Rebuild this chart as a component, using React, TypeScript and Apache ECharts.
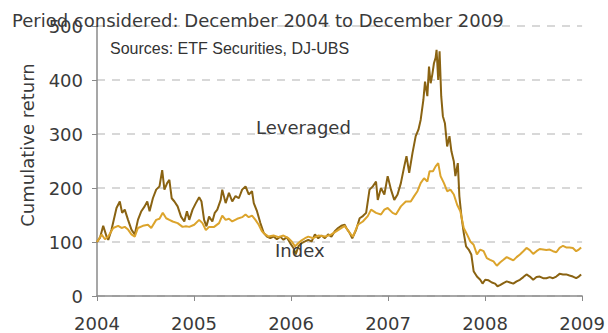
import React, { useEffect, useRef } from "react";
import * as echarts from "echarts";

// Leveraged commodity tracker, cumulative return (start = 100)
const levYears = [
  2004.0, 2004.031, 2004.064, 2004.099, 2004.116, 2004.15, 2004.201, 2004.235, 2004.259, 2004.286,
  2004.32, 2004.355, 2004.389, 2004.422, 2004.457, 2004.491, 2004.518, 2004.542, 2004.576, 2004.61,
  2004.644, 2004.672, 2004.695, 2004.723, 2004.746, 2004.77, 2004.798, 2004.831, 2004.866, 2004.9,
  2004.927, 2004.951, 2004.985, 2005.019, 2005.053, 2005.077, 2005.104, 2005.128, 2005.155, 2005.189,
  2005.214, 2005.24, 2005.275, 2005.291, 2005.326, 2005.36, 2005.394, 2005.428, 2005.462, 2005.496,
  2005.531, 2005.564, 2005.598, 2005.616, 2005.649, 2005.684, 2005.718, 2005.752, 2005.786, 2005.82,
  2005.854, 2005.889, 2005.922, 2005.956, 2005.991, 2006.025, 2006.048, 2006.076, 2006.109, 2006.144,
  2006.178, 2006.212, 2006.246, 2006.28, 2006.314, 2006.349, 2006.382, 2006.416, 2006.451, 2006.485,
  2006.518, 2006.553, 2006.57, 2006.604, 2006.631, 2006.672, 2006.707, 2006.74, 2006.774, 2006.809,
  2006.843, 2006.876, 2006.894, 2006.927, 2006.962, 2006.996, 2007.03, 2007.064, 2007.098, 2007.132,
  2007.167, 2007.19, 2007.218, 2007.252, 2007.285, 2007.313, 2007.336, 2007.364, 2007.381, 2007.405,
  2007.422, 2007.439, 2007.456, 2007.473, 2007.49, 2007.5, 2007.517, 2007.531, 2007.548, 2007.565,
  2007.586, 2007.609, 2007.633, 2007.653, 2007.678, 2007.694, 2007.719, 2007.735, 2007.756, 2007.78,
  2007.804, 2007.831, 2007.858, 2007.882, 2007.916, 2007.95, 2007.974, 2008.001, 2008.036, 2008.07,
  2008.103, 2008.128, 2008.154, 2008.189, 2008.223, 2008.257, 2008.291, 2008.325, 2008.359, 2008.394,
  2008.427, 2008.461, 2008.496, 2008.53, 2008.563, 2008.598, 2008.632, 2008.666, 2008.7, 2008.734,
  2008.768, 2008.803, 2008.836, 2008.87, 2008.905, 2008.939, 2008.966, 2008.99,
];
const levValues = [
  100, 108, 130, 110, 104, 123, 163, 175, 154, 160,
  141, 123, 114, 141, 157, 166, 175, 157, 181, 197,
  203, 233, 197, 209, 215, 181, 175, 166, 147, 138,
  157, 141, 160, 172, 183, 175, 141, 129, 147, 138,
  154, 160, 178, 197, 172, 191, 175, 185, 181, 197,
  203, 188, 194, 172, 157, 135, 117, 110, 107, 110,
  105, 110, 104, 109, 98, 89, 77, 92, 98, 101,
  104, 101, 114, 107, 112, 107, 114, 110, 120, 126,
  130, 132, 126, 117, 107, 123, 144, 148, 154, 197,
  203, 212, 178, 200, 188, 222, 197, 178, 188, 209,
  240, 259, 228, 265, 296, 308, 326, 363, 397, 370,
  425, 394, 410, 431, 441, 456, 400, 453, 370, 333,
  320, 277, 296, 268, 249, 222, 246, 185, 148, 117,
  92, 86, 77, 46, 36, 30, 23, 30, 29, 25,
  23, 18, 20, 24, 27, 25, 23, 27, 30, 35,
  40, 36, 30, 35, 36, 33, 33, 35, 33, 36,
  41, 40, 40, 38, 36, 33, 36, 40,
];

// Underlying index, cumulative return (start = 100)
const idxYears = [
  2004.0, 2004.048, 2004.082, 2004.116, 2004.167, 2004.218, 2004.253, 2004.286, 2004.32, 2004.355,
  2004.389, 2004.422, 2004.473, 2004.525, 2004.559, 2004.61, 2004.644, 2004.678, 2004.713, 2004.746,
  2004.78, 2004.831, 2004.882, 2004.917, 2004.951, 2005.002, 2005.053, 2005.087, 2005.122, 2005.155,
  2005.207, 2005.258, 2005.291, 2005.326, 2005.36, 2005.394, 2005.445, 2005.496, 2005.531, 2005.564,
  2005.598, 2005.633, 2005.667, 2005.7, 2005.735, 2005.769, 2005.82, 2005.871, 2005.922, 2005.973,
  2006.007, 2006.042, 2006.076, 2006.109, 2006.144, 2006.178, 2006.229, 2006.28, 2006.349, 2006.416,
  2006.485, 2006.553, 2006.604, 2006.638, 2006.689, 2006.74, 2006.791, 2006.825, 2006.876, 2006.927,
  2006.962, 2006.996, 2007.047, 2007.081, 2007.132, 2007.183, 2007.234, 2007.269, 2007.303, 2007.336,
  2007.371, 2007.405, 2007.428, 2007.463, 2007.49, 2007.517, 2007.541, 2007.576, 2007.609, 2007.643,
  2007.678, 2007.712, 2007.745, 2007.78, 2007.814, 2007.848, 2007.882, 2007.916, 2007.95, 2007.985,
  2008.018, 2008.052, 2008.087, 2008.121, 2008.154, 2008.189, 2008.223, 2008.257, 2008.291, 2008.325,
  2008.359, 2008.394, 2008.427, 2008.461, 2008.496, 2008.53, 2008.563, 2008.598, 2008.632, 2008.666,
  2008.7, 2008.734, 2008.768, 2008.803, 2008.836, 2008.87, 2008.905, 2008.939, 2008.966, 2008.99,
];
const idxValues = [
  100, 114, 105, 110, 126, 130, 126, 128, 123, 114,
  110, 126, 130, 132, 126, 141, 143, 154, 144, 141,
  138, 135, 128, 129, 128, 132, 141, 135, 122, 128,
  128, 135, 149, 141, 143, 138, 143, 146, 151, 146,
  149, 141, 132, 120, 114, 110, 112, 109, 112, 107,
  101, 92, 98, 103, 107, 110, 107, 112, 110, 114,
  122, 130, 117, 110, 132, 138, 148, 160, 154, 151,
  160, 163, 154, 151, 166, 175, 175, 185, 194, 209,
  218, 212, 231, 231, 240, 246, 222, 209, 194, 197,
  188, 169, 157, 126, 114, 101, 95, 77, 86, 83,
  70, 67, 64, 56, 62, 67, 72, 69, 66, 72,
  77, 83, 89, 85, 78, 83, 87, 86, 85, 86,
  83, 81, 89, 93, 90, 90, 89, 83, 86, 90,
];

const yearTicks = [2004, 2005, 2006, 2007, 2008, 2009];
const returnTicks = [0, 100, 200, 300, 400, 500];

const FONT = "'DejaVu Sans', Verdana, sans-serif";
const TEXT = "#3a3a3a";
const LEV_COLOR = "#8a6312";
const IDX_COLOR = "#dca42c";

const pairs = (xs: number[], ys: number[]) => xs.map((x, i) => [x, ys[i]]);

export default function App() {
  const ref = useRef<HTMLDivElement>(null);

  useEffect(() => {
    if (!ref.current) return;
    const chart = echarts.init(ref.current, null, { renderer: "svg" });
    chart.setOption({
      animation: false,
      backgroundColor: "#ffffff",
      grid: { left: 97, right: 23.5, top: 26, bottom: 37 },
      xAxis: {
        type: "value",
        min: yearTicks[0],
        max: yearTicks[yearTicks.length - 1],
        interval: 1,
        axisLine: { lineStyle: { color: "#8a8a8a", width: 1.5 } },
        axisTick: { show: true, inside: false, length: 5, lineStyle: { color: "#8a8a8a" } },
        axisLabel: {
          color: TEXT,
          fontFamily: FONT,
          fontSize: 18,
          margin: 18,
          formatter: (v: number) => String(v),
        },
        splitLine: { show: false },
      },
      yAxis: {
        type: "value",
        min: returnTicks[0],
        max: returnTicks[returnTicks.length - 1],
        interval: 100,
        axisLine: { show: true, lineStyle: { color: "#8a8a8a", width: 1.5 } },
        axisTick: { show: true, inside: false, length: 5, lineStyle: { color: "#8a8a8a" } },
        axisLabel: { color: TEXT, fontFamily: FONT, fontSize: 18, margin: 14 },
        splitLine: {
          show: true,
          lineStyle: { color: "#cccccc", type: [8, 7], width: 1.5 },
        },
      },
      series: [
        {
          name: "Leveraged",
          type: "line",
          data: pairs(levYears, levValues),
          showSymbol: false,
          lineStyle: { color: LEV_COLOR, width: 2 },
          itemStyle: { color: LEV_COLOR },
          z: 2,
        },
        {
          name: "Index",
          type: "line",
          data: pairs(idxYears, idxValues),
          showSymbol: false,
          lineStyle: { color: IDX_COLOR, width: 2 },
          itemStyle: { color: IDX_COLOR },
          z: 3,
        },
      ],
      graphic: [
        {
          type: "text",
          x: 12,
          y: 20,
          style: {
            text: "Period considered: December 2004 to December 2009",
            font: `18px ${FONT}`,
            fill: TEXT,
            verticalAlign: "middle",
          },
          z: 10,
        },
        {
          type: "text",
          x: 110,
          y: 48,
          style: {
            text: "Sources: ETF Securities, DJ-UBS",
            font: "16px 'Liberation Sans', Arial, sans-serif",
            fill: "#333333",
            verticalAlign: "middle",
          },
          z: 10,
        },
        {
          type: "text",
          x: 27,
          y: 145,
          rotation: Math.PI / 2,
          style: {
            text: "Cumulative return",
            font: `18px ${FONT}`,
            fill: TEXT,
            align: "center",
            verticalAlign: "middle",
          },
          z: 10,
        },
        {
          type: "text",
          x: 256,
          y: 127,
          style: {
            text: "Leveraged",
            font: `18px ${FONT}`,
            fill: TEXT,
            verticalAlign: "middle",
          },
          z: 10,
        },
        {
          type: "text",
          x: 275,
          y: 250,
          style: {
            text: "Index",
            font: `18px ${FONT}`,
            fill: TEXT,
            verticalAlign: "middle",
          },
          z: 10,
        },
      ],
    });
    return () => chart.dispose();
  }, []);

  return (
    <div
      ref={ref}
      style={{ position: "fixed", left: 0, top: 0, width: 608, height: 333 }}
    />
  );
}
